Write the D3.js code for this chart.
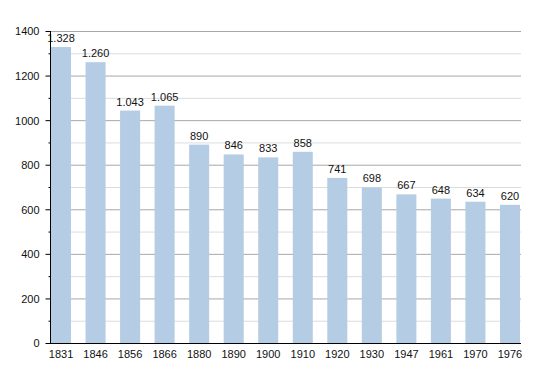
<!DOCTYPE html>
<html><head><meta charset="utf-8">
<script src="https://cdn.jsdelivr.net/npm/d3@7"></script>
<style>body{margin:0;background:#fff}svg{display:block}text{font-family:"Liberation Sans",Arial,sans-serif;font-size:11px;fill:#111}</style>
</head><body><svg width="550" height="373"></svg>
<script>
const years = ["1831","1846","1856","1866","1880","1890","1900","1910","1920","1930","1947","1961","1970","1976"];
const population = [1328,1260,1043,1065,890,846,833,858,741,698,667,648,634,620];
const majorTicks = [0,200,400,600,800,1000,1200,1400];
const minorTicks = [100,300,500,700,900,1100,1300];

const svg = d3.select("svg");
const x = d3.scaleBand().domain(years).range([51,520]).paddingInner(0.42).paddingOuter(0);
const y = d3.scaleLinear().domain([0,1400]).range([343,31]);
const fmt = v => d3.format(",")(v).replace(/,/g,".");

svg.append("g").selectAll("line").data(minorTicks).join("line")
  .attr("x1",50).attr("x2",521).attr("y1",d=>y(d)+0.5).attr("y2",d=>y(d)+0.5)
  .attr("stroke","#dcdcdc").attr("stroke-width",1);
svg.append("g").selectAll("line").data(majorTicks.filter(d=>d>0)).join("line")
  .attr("x1",50).attr("x2",521).attr("y1",d=>y(d)+0.5).attr("y2",d=>y(d)+0.5)
  .attr("stroke","#a8a8a8").attr("stroke-width",1);

svg.append("g").selectAll("rect").data(population).join("rect")
  .attr("x",(d,i)=>x(years[i])).attr("width",x.bandwidth())
  .attr("y",d=>y(d)).attr("height",d=>y(0)-y(d)).attr("fill","#b4cde4");

svg.append("g").selectAll("text").data(population).join("text")
  .attr("x",(d,i)=>x(years[i])+x.bandwidth()/2).attr("y",d=>y(d)-5)
  .attr("text-anchor","middle").text(d=>fmt(d));

const yAxis = d3.axisLeft(y).tickValues(majorTicks).tickSize(5).tickPadding(6).tickFormat(d3.format("d"));
const gy = svg.append("g").attr("transform","translate(50.5,0)").call(yAxis);
gy.select(".domain").remove();
gy.selectAll("line").attr("stroke","#000");
gy.selectAll("text").attr("font-size",null).attr("font-family",null).attr("dy","0.35em");
gy.attr("font-size",null).attr("font-family",null);
const gym = svg.append("g").attr("transform","translate(50.5,0)").call(d3.axisLeft(y).tickValues(minorTicks).tickSize(2).tickFormat(""));
gym.select(".domain").remove();
gym.selectAll("line").attr("stroke","#000");
svg.append("line").attr("x1",50.5).attr("x2",50.5).attr("y1",31).attr("y2",343.5).attr("stroke","#000");
svg.append("line").attr("x1",50).attr("x2",521).attr("y1",343.5).attr("y2",343.5).attr("stroke","#000");

const gx = svg.append("g").attr("transform","translate(0,343)").call(d3.axisBottom(x).tickSize(0).tickPadding(7));
gx.select(".domain").remove();
gx.attr("font-size",null).attr("font-family",null);
</script></body></html>
